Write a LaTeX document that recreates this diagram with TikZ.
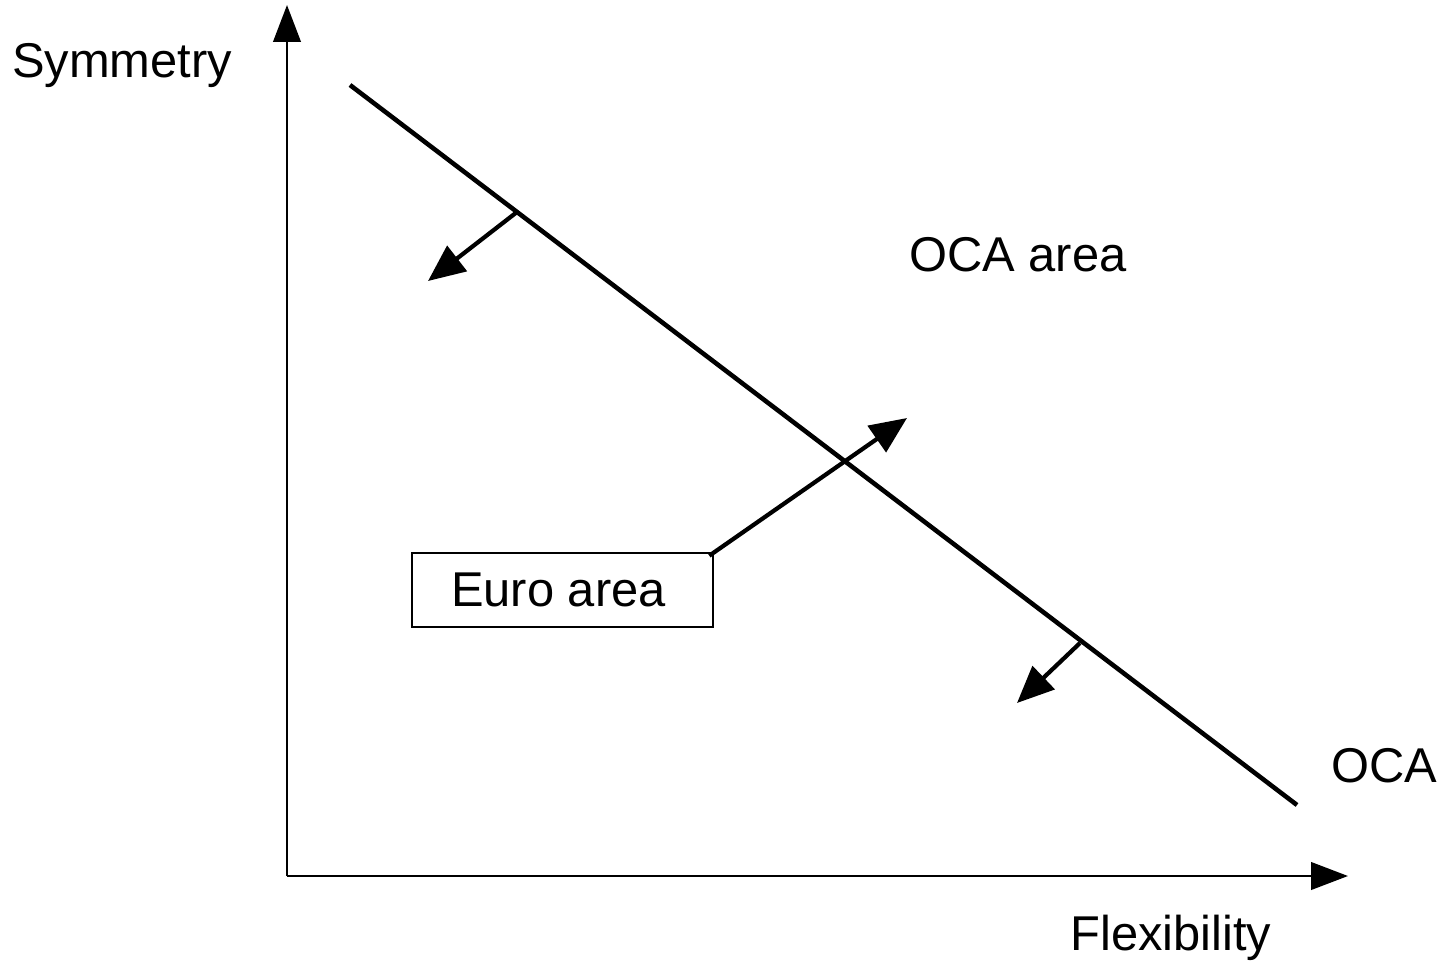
\documentclass[tikz,border=0pt]{standalone}
\usepackage{fontspec}
\setmainfont{Liberation Sans}
\usetikzlibrary{arrows.meta, positioning, calc}

\tikzset{
  axis/.style={line width=0.75pt, -{Triangle[length=10.5pt, width=7.8pt]}},
  moveto/.style={line width=1.2pt, -{Triangle[length=10.5pt, width=9pt]}},
  lbl/.style={anchor=base, font=\fontsize{13.9}{16}\selectfont}
}

\begin{document}
\begin{tikzpicture}
      \useasboundingbox (0,0) rectangle (14.43,9.60);

      % Axes
      \coordinate (o) at (2.87,0.84);
      \coordinate (ytip) at (2.87,9.55);
      \coordinate (xtip) at (13.48,0.84);
      \draw[axis] (o) -- (ytip);
      \draw[axis] (o) -- (xtip);
      \node[lbl] (sym) at (1.22,8.83) {Symmetry};
      \node[lbl] (flex) at (11.71,0.10) {Flexibility};

      % OCA line
      \coordinate (a) at (3.50,8.75);
      \coordinate (b) at (12.97,1.55);
      \draw[line width=1.3pt] (a) -- (b);
      \node[lbl] (oca) at (13.84,1.78) {OCA};
      \node[lbl] (ocaarea) at (10.18,6.89) {OCA area};

      % Shifts of the line
      \coordinate (s1) at (5.17,7.48);
      \coordinate (t1) at (4.28,6.79);
      \draw[moveto] (s1) -- (t1);
      \coordinate (s2) at (10.80,3.17);
      \coordinate (t2) at (10.17,2.57);
      \draw[moveto] (s2) -- (t2);

      % Euro area box
      \node[draw, line width=0.75pt, minimum width=3.01cm, minimum height=0.74cm,
            font=\fontsize{13.9}{16}\selectfont, inner sep=0pt] (euro) at (5.625,3.70) {Euro area\kern0.08cm};
      \coordinate (t3) at (9.07,5.42);
      \draw[moveto] ($(euro.north east)+(-0.05,-0.04)$) -- (t3);
    \end{tikzpicture}
\end{document}
